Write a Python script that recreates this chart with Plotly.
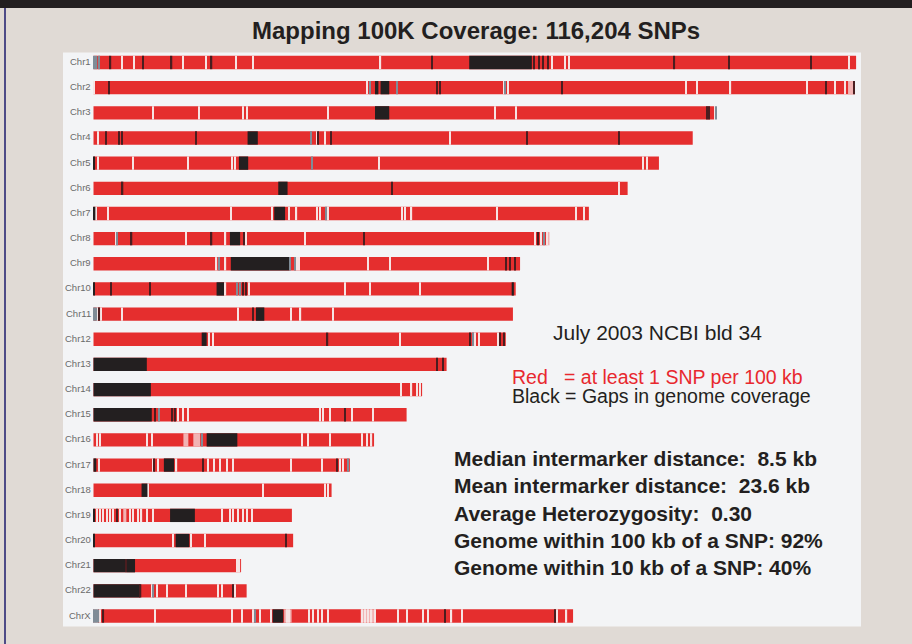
import plotly.graph_objects as go

# ---- data (positions in Mb along each chromosome, NCBI build 34) ----
chroms = ["Chr1", "Chr2", "Chr3", "Chr4", "Chr5", "Chr6", "Chr7", "Chr8", "Chr9", "Chr10",
          "Chr11", "Chr12", "Chr13", "Chr14", "Chr15", "Chr16", "Chr17", "Chr18", "Chr19",
          "Chr20", "Chr21", "Chr22", "ChrX"]

lengths = [246.0, 245.6, 200.2, 193.3, 182.4, 172.3, 159.8, 146.2, 137.6, 136.2,
           135.3, 133.0, 113.9, 106.0, 101.0, 90.5, 82.7, 76.8, 64.0,
           64.4, 47.6, 49.4, 154.7]

# gaps in genome coverage (start, end)
gaps = {
    "Chr1": [(121.2, 141.4)],
    "Chr2": [(90.8, 91.9), (92.6, 95.4)],
    "Chr3": [(90.8, 95.4)],
    "Chr4": [(49.7, 53.0)],
    "Chr5": [(0.0, 0.5), (46.9, 49.9)],
    "Chr6": [(59.6, 62.6)],
    "Chr7": [(0.0, 0.6), (58.3, 61.8)],
    "Chr8": [(44.0, 47.3)],
    "Chr9": [(44.3, 63.2)],
    "Chr10": [(0.0, 0.4), (39.7, 42.1), (134.9, 135.6)],
    "Chr11": [(52.4, 55.1)],
    "Chr12": [(34.9, 36.5)],
    "Chr13": [(0.0, 17.2)],
    "Chr14": [(0.0, 18.5)],
    "Chr15": [(0.0, 18.8)],
    "Chr16": [(36.5, 46.4)],
    "Chr17": [(0.0, 0.9), (22.7, 26.0)],
    "Chr18": [(15.5, 17.4)],
    "Chr19": [(0.0, 0.4), (24.7, 32.7)],
    "Chr20": [(0.0, 0.4), (26.5, 30.9)],
    "Chr21": [(0.0, 10.3), (10.7, 13.4)],
    "Chr22": [(0.0, 14.9)],
    "ChrX": [(57.8, 61.2)],
}

# sparsely covered stretches (start, end)
sparse = {
    "Chr2": [(243.4, 245.0)],
    "Chr8": [(146.6, 147.1)],
    "Chr16": [(29.0, 30.6), (32.2, 34.4)],
    "Chr19": [(9.6, 10.6)],
    "ChrX": [(61.5, 63.9), (86.2, 91.0)],
}

# narrow gaps drawn as thin dark lines
dark_lines = {
    "Chr1": [5.5, 15.9, 25.2, 38.1, 109.1, 142.1, 143.7, 144.9, 146.7, 187.4, 205.0, 231.5],
    "Chr2": [5.0, 110.7, 111.8, 151.2, 236.2, 245.4],
    "Chr3": [197.8, 198.5],
    "Chr4": [4.0, 8.3, 9.1, 33.1, 72.5, 76.5, 139.9, 169.6],
    "Chr6": [9.4, 96.4],
    "Chr8": [12.3, 38.1, 48.5, 87.3, 143.4],
    "Chr9": [133.0, 134.4, 136.0],
    "Chr10": [5.6, 18.2, 48.3, 49.1],
    "Chr11": [1.9, 51.4],
    "Chr12": [75.5, 121.5, 131.1, 132.4],
    "Chr13": [110.9, 112.8],
    "Chr15": [19.8, 25.5, 26.3, 81.1],
    "Chr17": [19.6, 35.4, 78.6],
    "Chr19": [7.7],
    "Chr20": [62.1],
    "Chr21": [10.5],
    "Chr22": [15.2, 45.1],
    "ChrX": [3.2, 113.4, 148.9],
}

# unresolved markers drawn as grey lines
grey_lines = {
    "Chr1": [0.3, 1.0, 1.7],
    "Chr2": [89.2, 97.8, 132.7],
    "Chr3": [200.9],
    "Chr4": [70.1],
    "Chr5": [70.4],
    "Chr7": [74.9],
    "Chr8": [7.7, 145.4],
    "Chr9": [40.5, 65.0, 63.5],
    "Chr10": [46.2, 47.3],
    "Chr11": [0.2, 0.7],
    "Chr12": [122.5],
    "Chr15": [21.2],
    "Chr16": [34.9],
    "Chr17": [82.2],
    "Chr22": [19.3],
    "ChrX": [0.1, 0.9, 1.6, 52.1],
}

# breaks between mapped stretches (thin light stripes)
breaks = {
    "Chr1": [9.1, 13.1, 28.8, 36.2, 45.9, 51.4, 92.6, 147.8, 152.1, 153.5, 243.7],
    "Chr2": [0.3, 88.1, 132.4, 133.7, 191.0, 194.6, 205.5, 230.3, 239.2, 242.4],
    "Chr3": [19.1, 34.1, 48.1, 49.4, 75.7, 129.5, 136.3, 200.5],
    "Chr4": [1.5, 72.0, 74.7, 115.0],
    "Chr5": [1.5, 12.8, 30.6, 44.6, 45.6, 92.2, 177.2, 178.6],
    "Chr6": [169.6],
    "Chr7": [0.8, 4.8, 44.3, 57.5, 63.2, 65.5, 72.0, 73.1, 75.7, 99.4, 100.5, 102.6,
             130.1, 155.6, 158.2],
    "Chr8": [7.3, 29.8, 42.6, 49.2, 68.2, 142.3, 144.5, 146.3],
    "Chr9": [39.7, 42.6, 65.7, 66.4, 88.6, 95.6, 127.2],
    "Chr10": [42.6, 50.3, 81.1, 89.2, 105.3],
    "Chr11": [1.2, 2.3, 9.1, 46.7, 63.7, 66.8, 77.4],
    "Chr12": [37.3, 38.5, 98.9, 123.1, 124.4, 130.6],
    "Chr14": [99.1, 102.6, 104.5, 105.3],
    "Chr15": [27.4, 29.0, 30.6, 73.1, 74.1, 76.3, 83.3, 90.3],
    "Chr16": [1.0, 2.1, 17.2, 18.8, 67.2, 69.3, 76.3, 86.5, 88.1, 89.7],
    "Chr17": [1.9, 19.1, 20.9, 26.8, 37.0, 38.9, 40.8, 43.0, 45.1, 63.6, 73.6, 79.5, 80.6],
    "Chr18": [17.7, 54.8, 74.7, 75.7],
    "Chr19": [1.0, 2.1, 3.2, 4.3, 5.3, 6.4, 8.5, 11.8, 12.8, 14.5, 15.5, 17.2, 19.3,
              41.4, 44.0, 45.1, 46.7, 48.3, 49.4, 51.0],
    "Chr20": [25.7, 31.4, 36.0],
    "Chr21": [46.4, 47.1],
    "Chr22": [18.8, 20.4, 23.6, 29.8, 40.3, 41.4, 45.6],
    "ChrX": [0.5, 1.2, 2.0, 19.8, 44.6, 47.8, 51.5, 53.7, 57.2, 62.3, 63.1, 69.6, 70.9,
             72.5, 73.6, 75.7, 86.5, 87.6, 88.6, 89.7, 90.8, 98.3, 101.0, 106.4, 108.0,
             115.5, 118.8, 149.4, 152.6],
}

title_text = "Mapping 100K Coverage: 116,204 SNPs"
build_text = "July 2003 NCBI bld 34"
legend_red = "Red\u00a0\u00a0\u00a0= at least 1 SNP per 100 kb"
legend_black = "Black = Gaps in genome coverage"
stats = [
    "Median intermarker distance:\u00a0\u00a08.5 kb",
    "Mean intermarker distance:\u00a0\u00a023.6 kb",
    "Average Heterozygosity:\u00a0\u00a00.30",
    "Genome within 100 kb of a SNP: 92%",
    "Genome within 10 kb of a SNP: 40%",
]

# ---- styling ----
W, H = 912, 644
RED = "#e52e2e"
BLACK = "#231f20"
DARK = "#4a1d1f"
GREY = "#7f8c97"
STRIPE = "#f6e4e4"
PALE = "#f2b3b3"
PANEL = "#f3f4f6"
PAGE = "#e0dad5"

BAR_W = 0.53
X0_PX, PX_PER_MB = 93.5, 3.1
ROW0_PX, ROW_PX = 62.5, 25.16


def px(x):
    return x / W


def py(y):
    return 1 - y / H


def interval_trace(table, color):
    ys, bases, widths = [], [], []
    for c, ivs in table.items():
        for a, b in ivs:
            ys.append(c)
            bases.append(a)
            widths.append(b - a)
    return go.Bar(y=ys, x=widths, base=bases, orientation="h", width=BAR_W,
                  marker=dict(color=color, line=dict(width=0)), hoverinfo="skip")


def line_trace(table, color, thick):
    ys, bases, widths = [], [], []
    for c, pos in table.items():
        for p in pos:
            ys.append(c)
            bases.append(p - thick / 2)
            widths.append(thick)
    return go.Bar(y=ys, x=widths, base=bases, orientation="h", width=BAR_W,
                  marker=dict(color=color, line=dict(width=0)), hoverinfo="skip")


fig = go.Figure()
fig.add_trace(go.Bar(y=chroms, x=lengths, base=[0] * len(chroms), orientation="h",
                     width=BAR_W, marker=dict(color=RED, line=dict(width=0)),
                     hoverinfo="skip"))
fig.add_trace(interval_trace(sparse, PALE))
fig.add_trace(line_trace(breaks, STRIPE, 0.38))
fig.add_trace(interval_trace(gaps, BLACK))
fig.add_trace(line_trace(grey_lines, GREY, 0.4))
fig.add_trace(line_trace(dark_lines, DARK, 0.42))

# background: page, dark header strip, left rule, light panel
fig.add_shape(type="rect", xref="paper", yref="paper", x0=px(63), x1=px(861),
              y0=py(626.5), y1=py(52.5), fillcolor=PANEL, line=dict(width=0), layer="below")
fig.add_shape(type="rect", xref="paper", yref="paper", x0=0, x1=1,
              y0=py(8), y1=1, fillcolor=BLACK, line=dict(width=0), layer="below")
fig.add_shape(type="line", xref="paper", yref="paper", x0=px(5), x1=px(5),
              y0=0, y1=py(8), line=dict(color="#4e4b87", width=2), layer="below")

# chromosome labels
for c in chroms:
    fig.add_annotation(x=0, y=c, xref="x", yref="y", text=c, showarrow=False,
                       xanchor="right", yanchor="middle", xshift=-0.5, yshift=1,
                       font=dict(family="Liberation Sans, Arial", size=9.5, color="#6a6a6a"))

fig.add_annotation(x=px(476), y=py(30), xref="paper", yref="paper", text=f"<b>{title_text}</b>",
                   showarrow=False, xanchor="center", yanchor="middle",
                   font=dict(family="Liberation Sans, Arial", size=24, color=BLACK))
fig.add_annotation(x=px(551), y=py(333), xref="paper", yref="paper", text=build_text,
                   showarrow=False, xanchor="left", yanchor="middle",
                   font=dict(family="Liberation Sans, Arial", size=21, color=BLACK))
fig.add_annotation(x=px(510), y=py(377), xref="paper", yref="paper", text=legend_red,
                   showarrow=False, xanchor="left", yanchor="middle",
                   font=dict(family="Liberation Sans, Arial", size=19.5, color="#e8282e"))
fig.add_annotation(x=px(510), y=py(396), xref="paper", yref="paper", text=legend_black,
                   showarrow=False, xanchor="left", yanchor="middle",
                   font=dict(family="Liberation Sans, Arial", size=19.5, color=BLACK))
fig.add_annotation(x=px(452), y=py(513), xref="paper", yref="paper",
                   text="<br>".join(f"<b>{s}</b>" for s in stats),
                   showarrow=False, xanchor="left", yanchor="middle", align="left",
                   font=dict(family="Liberation Sans, Arial", size=21, color=BLACK))

y_top = -ROW0_PX / ROW_PX
y_bot = (len(chroms) - 1) + (H - (ROW0_PX + (len(chroms) - 1) * ROW_PX)) / ROW_PX
fig.update_layout(
    width=W, height=H, margin=dict(l=0, r=0, t=0, b=0),
    paper_bgcolor=PAGE, plot_bgcolor="rgba(0,0,0,0)",
    barmode="overlay", showlegend=False,
    xaxis=dict(range=[-X0_PX / PX_PER_MB, (W - X0_PX) / PX_PER_MB], visible=False,
               fixedrange=True),
    yaxis=dict(type="category", categoryorder="array", categoryarray=chroms,
               range=[y_bot, y_top], visible=False, fixedrange=True),
)

fig.write_html("out.html")
